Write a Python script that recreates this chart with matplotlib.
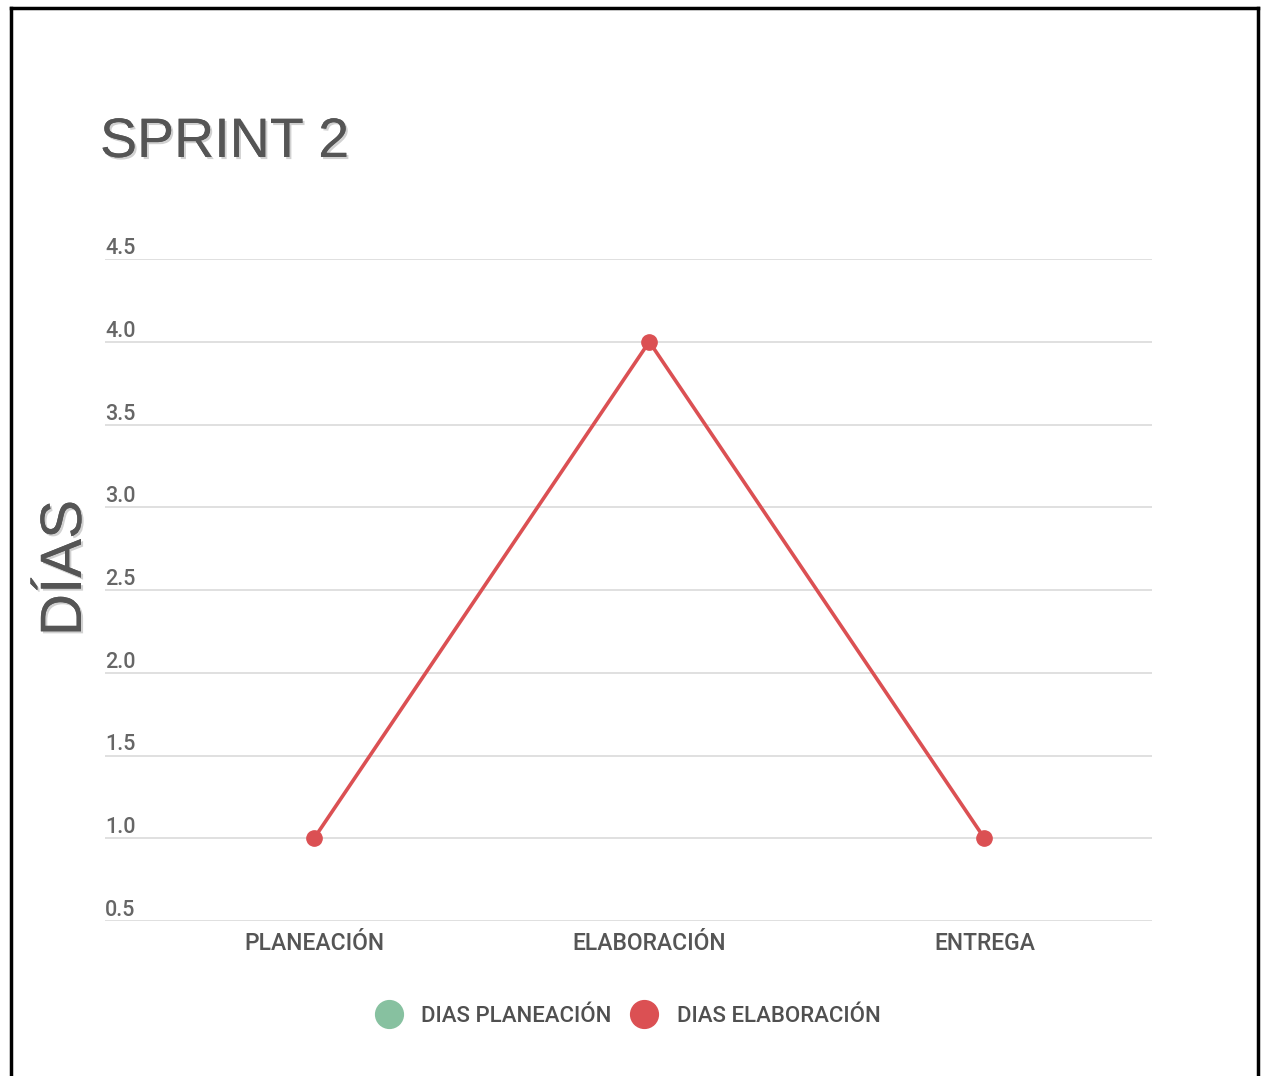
import matplotlib.pyplot as plt
import matplotlib.patheffects as pe
from matplotlib.lines import Line2D
import numpy as np

# Sprint 2 data
fases = ["PLANEACIÓN", "ELABORACIÓN", "ENTREGA"]
dias_elaboracion = [1, 4, 1]
y_ticks = [0.5, 1.0, 1.5, 2.0, 2.5, 3.0, 3.5, 4.0, 4.5]
series_names = ["DIAS PLANEACIÓN", "DIAS ELABORACIÓN"]
series_colors = ["#87c1a0", "#db5053"]

W, H = 1263, 1076
fig = plt.figure(figsize=(W / 100, H / 100), dpi=100)
fig.patch.set_facecolor("white")

# black frame around the chart (bottom edge is cut off)
frame_kw = dict(color="black", lw=2.5, transform=fig.transFigure)
fig.add_artist(Line2D([11 / W, 11 / W], [0, 1 - 8 / H], **frame_kw))
fig.add_artist(Line2D([1258 / W, 1258 / W], [0, 1 - 8 / H], **frame_kw))
fig.add_artist(Line2D([11 / W, 1258 / W], [1 - 8 / H, 1 - 8 / H], **frame_kw))

ax = fig.add_axes([105 / W, 1 - 921 / H, (1152 - 105) / W, (921 - 259) / H])
x = np.arange(len(fases))
ax.plot(x, dias_elaboracion, color=series_colors[1], lw=2.6, marker="o",
        markersize=11, zorder=3)

ax.set_xlim(-0.624, 2.5)
ax.set_ylim(0.5, 4.5)
ax.set_yticks(y_ticks)
ax.grid(axis="y", color="#dddddd", lw=1.3)
ax.set_axisbelow(True)
for s in ax.spines.values():
    s.set_visible(False)
ax.tick_params(length=0)
ax.set_yticklabels([])
for v in y_ticks:
    ax.annotate(f"{v:.1f}", (0, v), xycoords=ax.get_yaxis_transform(),
                xytext=(0, 0), textcoords="offset pixels",
                ha="left", va="bottom", fontsize=15.5, color="#666666",
                family="Roboto", fontweight="medium")
ax.set_xticks(x)
ax.set_xticklabels(fases, fontsize=16.5, color="#555555", family="Roboto",
                   fontweight="medium")
ax.tick_params(axis="x", pad=8)

# title and y label
shadow = [pe.withSimplePatchShadow(offset=(1.5, -1.5), shadow_rgbFace="#999999", alpha=0.45),
          pe.Normal()]
fig.text(100 / W, 1 - 143 / H, "SPRINT 2", fontsize=40, color="#555555",
         family="Liberation Sans", va="center", ha="left", path_effects=shadow)
fig.text(66 / W, 1 - 568 / H, "DÍAS", fontsize=42, color="#555555",
         family="Liberation Sans", va="center", ha="center", rotation=90,
         path_effects=shadow)

# legend
handles = [Line2D([], [], ls="none", marker="o", markersize=20, color=c)
           for c in series_colors]
leg = fig.legend(handles, series_names, loc="center", ncol=2,
                 bbox_to_anchor=(628 / W, 1 - 1016 / H), frameon=False,
                 prop=dict(family="Roboto", size=16, weight="medium"),
                 handletextpad=0.88, columnspacing=0.85, handlelength=1.2)
for t in leg.get_texts():
    t.set_color("#505050")

fig.savefig("out.png", dpi=100)
